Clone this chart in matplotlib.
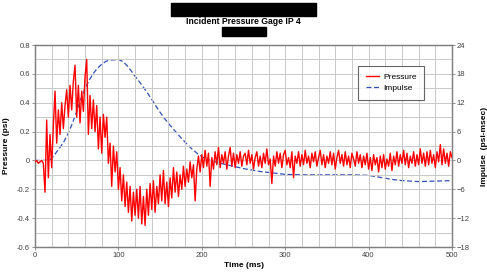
import numpy as np
import matplotlib
matplotlib.use("Agg")
import matplotlib.pyplot as plt
from matplotlib.patches import Rectangle

plt.rcParams['font.family'] = ['Liberation Sans', 'DejaVu Sans']

pressure_time = np.arange(0, 501, 2)
pressure = [
    -0.01, 0.00, -0.02, -0.01, 0.00, -0.02, -0.22, 0.28, -0.12, 0.18,
    -0.05, 0.24, 0.48, 0.12, 0.35, 0.18, 0.40, 0.22, 0.38, 0.49,
    0.30, 0.52, 0.35, 0.55, 0.66, 0.30, 0.52, 0.26, 0.48, 0.34,
    0.58, 0.70, 0.18, 0.45, 0.22, 0.42, 0.20, 0.38, 0.08, 0.30,
    0.05, 0.32, 0.16, 0.30, -0.02, 0.12, -0.18, 0.10, -0.08, 0.06,
    -0.20, -0.05, -0.28, -0.10, -0.32, -0.15, -0.36, -0.18, -0.42, -0.22,
    -0.38, -0.20, -0.40, -0.18, -0.44, -0.25, -0.45, -0.20, -0.38, -0.16,
    -0.34, -0.14, -0.36, -0.18, -0.30, -0.10, -0.28, -0.07, -0.30, -0.15,
    -0.32, -0.12, -0.26, -0.05, -0.22, -0.08, -0.25, -0.10, -0.20, -0.04,
    -0.18, -0.06, -0.15, -0.01, -0.12, -0.03, -0.28, -0.06, 0.03, -0.08,
    0.04, -0.05, 0.07, -0.04, 0.05, -0.18, 0.02, -0.06, 0.06, -0.03,
    0.09, -0.05, 0.04, -0.02, 0.06, -0.06, 0.03, 0.09, -0.04, 0.05,
    -0.05, 0.04, -0.02, 0.06, -0.04, 0.03,
    0.05, -0.03, 0.07, -0.02, 0.04, -0.06, 0.02, 0.06, -0.04, 0.03,
    -0.05, 0.05, -0.02, 0.08, -0.03, 0.01, -0.16, 0.03, -0.04, 0.06,
    -0.02, 0.05, -0.05, 0.04, 0.07, -0.03, 0.02, -0.05, 0.06, -0.12,
    0.03, -0.02, 0.06, -0.04, 0.04, -0.03, 0.07, -0.02, 0.03, -0.05,
    0.05, -0.01, 0.06, -0.04, 0.02, 0.07, -0.03, 0.04, -0.05, 0.03,
    -0.02, 0.06, -0.03, 0.05, -0.06, 0.02, 0.07, -0.02, 0.04, -0.04,
    0.06, -0.03, 0.03, -0.05, 0.05, 0.01, -0.04, 0.06, -0.02, 0.04,
    -0.05, 0.03, -0.03, 0.05, -0.06, 0.02, -0.07, 0.04, -0.03, 0.02,
    -0.08, 0.03, -0.05, 0.04, -0.06, 0.01, -0.04, 0.05, -0.07, 0.03,
    -0.03, 0.06, -0.04, 0.04, -0.02, 0.07, -0.03, 0.05, -0.05, 0.03,
    -0.02, 0.06, -0.04, 0.04, -0.03, 0.08, -0.02, 0.05, -0.04, 0.06,
    -0.03, 0.07, -0.02, 0.04, -0.05, 0.06, -0.01, 0.11, -0.03, 0.08,
    -0.02, 0.05, -0.04, 0.06, 0.02,
]
assert len(pressure) == len(pressure_time)

# cumulative impulse (psi-msec)
impulse_time = [0, 10, 18, 22, 26, 30, 35, 40, 45, 50, 55, 60, 65, 70, 75, 80,
                85, 90, 95, 100, 105, 110, 115, 120, 125, 130, 135, 140, 145,
                150, 155, 160, 165, 170, 175, 180, 185, 190, 195, 200, 205,
                210, 220, 230, 240, 250, 260, 270, 280, 290, 300, 320, 340,
                360, 380, 400, 410, 420, 430, 440, 460, 480, 500]
impulse = [0.0, 0.0, 0.1, 0.8, 1.8, 2.7, 4.0, 5.7, 7.8, 10.2, 12.8, 14.9, 16.7,
           18.1, 19.2, 20.0, 20.6, 20.9, 20.9, 21.0, 20.6, 19.8, 18.7, 17.5,
           16.4, 15.2, 14.0, 12.7, 11.3, 10.0, 8.8, 7.7, 6.7, 5.7, 4.7, 3.8,
           2.9, 2.1, 1.4, 0.8, 0.3, 0.0, -0.5, -0.9, -1.3, -1.7, -2.0, -2.3,
           -2.5, -2.7, -2.9, -3.0, -3.0, -3.0, -3.0, -3.1, -3.4, -3.7, -4.0,
           -4.2, -4.4, -4.3, -4.2]

TICK_COLOR = '#404040'

fig = plt.figure(figsize=(4.87, 2.74), dpi=100)
ax = fig.add_axes([35 / 487, 27 / 274, 417 / 487, 202 / 274])
ax2 = ax.twinx()

# grid: 20 ms by 0.1 psi
ax.set_xticks(np.arange(0, 501, 20), minor=True)
ax.set_yticks(np.arange(-0.6, 0.81, 0.1), minor=True)
ax.grid(True, which='both', color='#c8c8c8', linewidth=0.7)
ax.set_axisbelow(True)

lp, = ax.plot(pressure_time, pressure, color='#ff0000', linewidth=1.0,
              label='Pressure', zorder=3)
li, = ax2.plot(impulse_time, impulse, color='#3050c0', linewidth=0.9,
               dashes=(4, 2), label='Impulse')
ax.set_zorder(ax2.get_zorder() + 1)
ax.patch.set_visible(False)

ax.set_xlim(0, 500)
ax.set_ylim(-0.6, 0.8)
ax2.set_ylim(-18, 24)
ax.set_xticks([0, 100, 200, 300, 400, 500])
ax.set_yticks([-0.6, -0.4, -0.2, 0, 0.2, 0.4, 0.6, 0.8])
ax.set_yticklabels(['-0.6', '-0.4', '-0.2', '0', '0.2', '0.4', '0.6', '0.8'])
ax2.set_yticks([-18, -12, -6, 0, 6, 12, 18, 24])

for a in (ax, ax2):
    a.tick_params(which='major', labelsize=5.5, labelcolor=TICK_COLOR,
                  length=2, width=0.6, color='#808080', pad=1.5)
    a.tick_params(which='minor', length=0)
    for s in a.spines.values():
        s.set_color('#808080')
        s.set_linewidth(0.9)

ax.set_xlabel('Time (ms)', fontsize=6, fontweight='bold', labelpad=2)
ax.set_ylabel('Pressure (psi)', fontsize=6, fontweight='bold', labelpad=5)
ax2.set_ylabel('Impulse  (psi-msec)', fontsize=6, fontweight='bold',
               labelpad=8)

leg = ax.legend(handles=[lp, li], loc='upper right',
                bbox_to_anchor=(0.933, 0.896), fontsize=6, frameon=True,
                fancybox=False, handlelength=1.6, handletextpad=0.5,
                borderpad=0.9, labelspacing=0.35, borderaxespad=0)
leg.get_frame().set_edgecolor('#404040')
leg.get_frame().set_linewidth(0.8)

# title with the redacted lines above and below it
fig.text(0.5, 1 - 22 / 274, 'Incident Pressure Gage IP 4', ha='center',
         va='center', fontsize=6.2, fontweight='bold')
fig.patches.append(Rectangle((171 / 487, 1 - 16 / 274), 145 / 487, 13 / 274,
                             transform=fig.transFigure, color='black'))
fig.patches.append(Rectangle((222 / 487, 1 - 36 / 274), 44 / 487, 9 / 274,
                             transform=fig.transFigure, color='black'))

fig.savefig('out.png', dpi=100)
